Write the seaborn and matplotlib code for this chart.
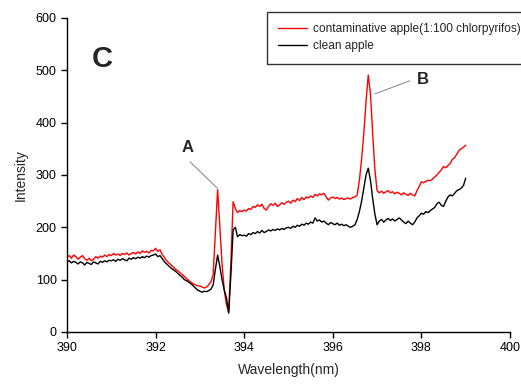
import numpy as np
import pandas as pd
import matplotlib
matplotlib.use("Agg")
import matplotlib.pyplot as plt
import seaborn as sns

# wavelength grid (nm), step 0.05
wavelength = np.round(np.arange(390.0, 399.0001, 0.05), 2)

contaminated = [
    143, 146, 141, 147, 144, 139, 143, 146, 140, 137, 141, 136, 139, 144, 141, 145, 143, 147, 144, 148,
    146, 150, 147, 149, 146, 150, 148, 151, 147, 150, 152, 149, 153, 150, 155, 152, 154, 151, 156, 155,
    160, 154, 157, 148, 142, 136, 132, 128, 124, 120, 117, 113, 110, 106, 102, 98, 95, 92, 90, 88,
    88, 86, 84, 86, 90, 96, 110, 190, 272, 200, 130, 80, 52, 38, 135, 249, 236, 228, 232, 230,
    233, 231, 236, 234, 240, 238, 243, 240, 244, 236, 233, 240, 245, 242, 246, 240, 243, 247, 244, 248,
    250, 246, 252, 249, 255, 251, 257, 253, 258, 256, 260, 257, 263, 260, 264, 262, 265, 258, 252, 256,
    258, 255, 257, 254, 256, 253, 255, 256, 254, 257, 258, 262, 290, 330, 380, 440, 491, 455, 380, 310,
    270, 266, 269, 265, 268, 270, 266, 268, 264, 267, 265, 262, 266, 263, 261, 265, 262, 260, 270, 278,
    287, 285, 288, 290, 289, 292, 296, 300, 305, 310, 316, 314, 318, 322, 330, 333, 340, 347, 350, 353,
    357,
]

clean = [
    134, 136, 132, 135, 133, 130, 134, 132, 128, 133, 131, 129, 134, 132, 130, 135, 133, 136, 134, 137,
    136, 138, 135, 139, 137, 140, 138, 136, 141, 139, 142, 140, 143, 141, 144, 142, 145, 143, 146, 147,
    149, 144, 146, 140, 134, 130, 126, 122, 119, 116, 112, 108, 105, 100, 98, 95, 92, 88, 84, 80,
    78, 76, 78, 77, 79, 82, 90, 120, 147, 125, 100, 80, 65, 36, 110, 195, 200, 182, 186, 184,
    185, 183, 188, 186, 190, 188, 192, 189, 194, 190, 192, 195, 193, 196, 194, 197, 195, 198, 196, 199,
    200, 198, 202, 200, 204, 202, 206, 204, 208, 206, 210, 208, 218, 212, 214, 210, 212, 208, 205, 209,
    207, 205, 208, 204, 206, 203, 205, 202, 200, 202, 205, 215, 230, 250, 275, 300, 313, 290, 255, 225,
    205, 212, 215, 210, 214, 217, 213, 216, 212, 215, 218, 214, 210, 207, 212, 208, 205, 210, 218, 222,
    227, 225, 230, 228, 232, 235, 238, 245, 248, 242, 240, 250, 258, 262, 260, 265, 270, 272, 275, 280,
    294,
]

series_names = ["contaminative apple(1:100 chlorpyrifos)", "clean apple"]
series_colors = ["#ff0000", "#000000"]
x_ticks = [390, 392, 394, 396, 398, 400]
y_ticks = [0, 100, 200, 300, 400, 500, 600]

df = pd.concat([
    pd.DataFrame({"Wavelength": wavelength, "Intensity": contaminated, "series": series_names[0]}),
    pd.DataFrame({"Wavelength": wavelength, "Intensity": clean, "series": series_names[1]}),
])

sns.set_style("ticks")
plt.rcParams["font.family"] = ["Liberation Sans", "DejaVu Sans"]

fig = plt.figure(figsize=(5.21, 3.85), dpi=100)
ax = fig.add_axes([0.1286, 0.1377, 0.8503, 0.8156])

sns.lineplot(data=df, x="Wavelength", y="Intensity", hue="series",
             hue_order=series_names, palette=series_colors, linewidth=1.0,
             ax=ax, sort=False)

ax.set_xlim(390, 400)
ax.set_ylim(0, 600)
ax.set_xticks(x_ticks)
ax.set_yticks(y_ticks)
ax.tick_params(direction="out", length=4, width=1, labelsize=9, colors="black")
for s in ["top", "right"]:
    ax.spines[s].set_visible(False)
for s in ["left", "bottom"]:
    ax.spines[s].set_color("black")
    ax.spines[s].set_linewidth(1.0)

ax.set_xlabel("Wavelength(nm)", fontsize=10, labelpad=6)
ax.set_ylabel("Intensity", fontsize=10, labelpad=6)

leg = ax.legend(loc="upper left", bbox_to_anchor=(0.451, 1.02), borderaxespad=0,
                fontsize=8.6, frameon=True, fancybox=False, edgecolor="black",
                handlelength=2.4, handletextpad=0.5, labelspacing=0.45, borderpad=0.95)
leg.get_frame().set_linewidth(1.0)
leg.set_title(None)

# panel letter and peak annotations
ax.text(390.8, 522, "C", fontsize=21, fontweight="bold", ha="center", va="center")
ax.text(392.73, 352, "A", fontsize=12, fontweight="bold", ha="center", va="center")
ax.text(398.04, 482, "B", fontsize=12, fontweight="bold", ha="center", va="center")
ax.plot([392.78, 393.39], [325, 275], color="gray", linewidth=0.7)
ax.plot([397.74, 396.95], [480, 455], color="gray", linewidth=0.7)

fig.savefig("out.png", dpi=100)
